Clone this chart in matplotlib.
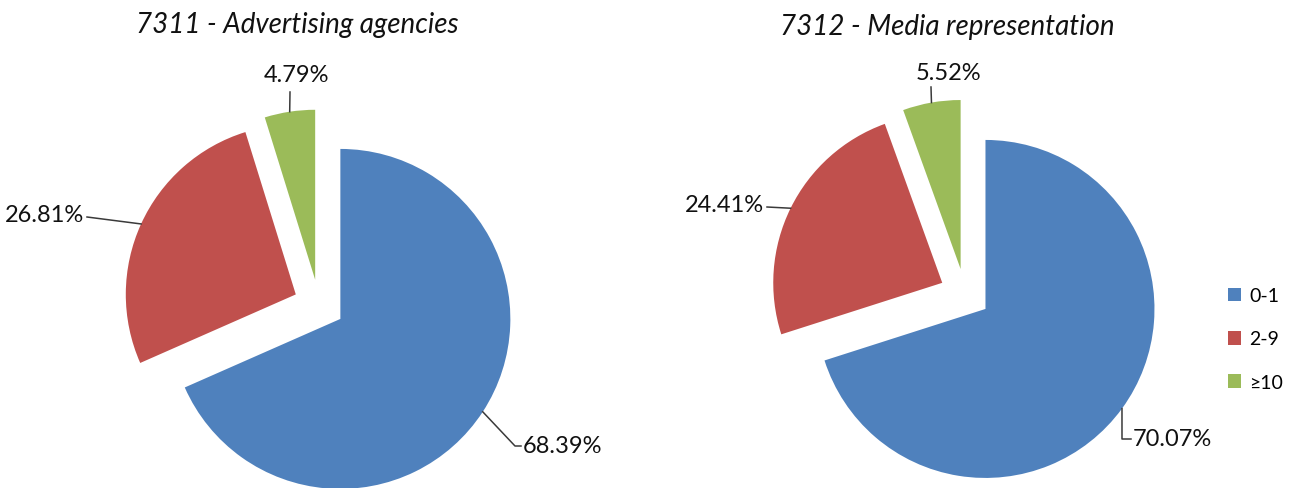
import numpy as np
import matplotlib.pyplot as plt
from matplotlib.patches import Patch

plt.rcParams['font.family'] = ['Lato', 'DejaVu Sans']

# data ###########################################################################
titles = ["7311 - Advertising agencies", "7312 - Media representation"]
categories = ["0-1", "2-9", "≥10"]
shares_7311 = [68.39, 26.81, 4.79]
shares_7312 = [70.07, 24.41, 5.52]
colors = ["#4F81BD", "#C0504D", "#9BBB59"]

# layout (pixels, top-left origin) ################################################
W, H = 1292, 489
EXPLODE = 0.15
L = 1.6

layouts = [
    dict(center=(319, 306), r=170, title_xy=(297, 25),
         legs=[([(515, 447), (521, 447)], (523, 447), "left"),
               ([(87, 218)], (84, 216), "right"),
               ([(290, 93)], (297, 76), "center")]),
    dict(center=(965, 295), r=169, title_xy=(947, 27),
         legs=[([(1122, 440), (1131, 440)], (1133, 440), "left"),
               ([(767, 208)], (764, 206), "right"),
               ([(931, 88)], (949, 73), "center")]),
]

fig = plt.figure(figsize=(W / 100, H / 100), dpi=100)


def to_data(p, c, r):
    return (p[0] - c[0]) / r, (c[1] - p[1]) / r


for shares, title, lay in zip([shares_7311, shares_7312], titles, layouts):
    cx, cy = lay["center"]
    r = lay["r"]
    half = L * r
    ax = fig.add_axes([(cx - half) / W, (H - cy - half) / H, 2 * half / W, 2 * half / H])
    wedges, _ = ax.pie(shares, colors=colors, startangle=90, counterclock=False,
                       explode=[EXPLODE] * len(shares), radius=1,
                       wedgeprops=dict(linewidth=0))
    ax.set_xlim(-L, L)
    ax.set_ylim(-L, L)
    ax.axis("off")

    # data labels with leader lines
    for w, val, (path, txt, ha) in zip(wedges, shares, lay["legs"]):
        mid = np.deg2rad((w.theta1 + w.theta2) / 2)
        x0 = w.center[0] + w.r * np.cos(mid)
        y0 = w.center[1] + w.r * np.sin(mid)
        pts = [to_data(p, (cx, cy), r) for p in path]
        xs = [x0] + [p[0] for p in pts]
        ys = [y0] + [p[1] for p in pts]
        ax.plot(xs, ys, color="#3a3a3a", lw=1.1, clip_on=False)
        tx, ty = to_data(txt, (cx, cy), r)
        ax.text(tx, ty, f"{val:.2f}%", ha=ha, va="center", fontsize=17,
                color="#111111", clip_on=False)

    fig.text(lay["title_xy"][0] / W, 1 - lay["title_xy"][1] / H, title,
             ha="center", va="center", fontsize=20, style="italic", color="#111111")

handles = [Patch(facecolor=c, edgecolor="none") for c in colors]
fig.legend(handles, categories, loc="center left",
           bbox_to_anchor=(1210 / W, 1 - 340 / H), frameon=False,
           fontsize=14, handlelength=0.7, handleheight=0.7,
           handletextpad=0.4, labelspacing=1.35)

fig.savefig("out.png", dpi=100, facecolor="white")
